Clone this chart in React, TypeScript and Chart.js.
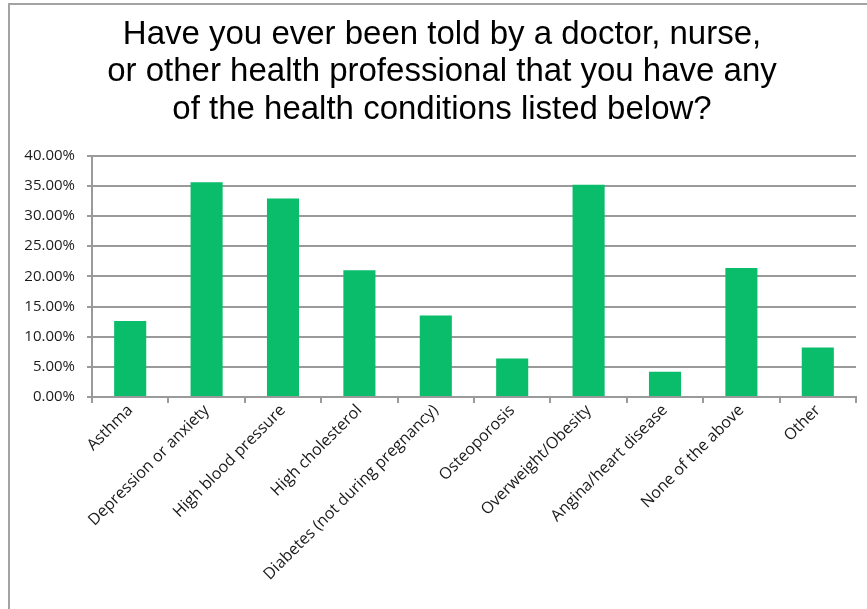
import React, { useEffect, useRef } from "react";
import { Chart, registerables } from "chart.js";

Chart.register(...registerables);

const titleLines = [
  "Have you ever been told by a doctor, nurse,",
  "or other health professional that you have any",
  "of the health conditions listed below?",
];

const categories = [
  "Asthma",
  "Depression or anxiety",
  "High blood pressure",
  "High cholesterol",
  "Diabetes (not during pregnancy)",
  "Osteoporosis",
  "Overweight/Obesity",
  "Angina/heart disease",
  "None of the above",
  "Other",
];

const percentages = [12.6, 35.6, 32.9, 21.0, 13.5, 6.4, 35.2, 4.2, 21.4, 8.2];

const yTickValues = [0, 5, 10, 15, 20, 25, 30, 35, 40];

const titleShift = {
  id: "titleShift",
  afterLayout(chart: any) {
    if (chart.titleBlock) {
      chart.titleBlock.left = 18;
    }
  },
};

export default function App() {
  const canvasRef = useRef<HTMLCanvasElement | null>(null);

  useEffect(() => {
    const canvas = canvasRef.current;
    if (!canvas) return;
    const chart = new Chart(canvas, {
      type: "bar",
      data: {
        labels: categories,
        datasets: [
          {
            data: percentages,
            backgroundColor: "#0abd6a",
            borderWidth: 0,
            barPercentage: 0.42,
            categoryPercentage: 1,
          },
        ],
      },
      options: {
        animation: false,
        responsive: false,
        maintainAspectRatio: false,
        layout: { padding: { left: 0, right: 20, top: 0, bottom: 8 } },
        plugins: {
          legend: { display: false },
          tooltip: { enabled: false },
          title: {
            display: true,
            text: titleLines,
            color: "#000000",
            font: { family: "'Liberation Sans', Arial, sans-serif", size: 33, weight: "normal", lineHeight: 1.139 },
            padding: { top: 11, bottom: 27 },
          },
        },
        scales: {
          x: {
            grid: {
              offset: true,
              drawOnChartArea: false,
              drawTicks: true,
              tickLength: 6,
              color: "#9a9a9a",
              lineWidth: 2,
            },
            border: { display: true, color: "#9a9a9a", width: 2 },
            ticks: {
              maxRotation: 45,
              minRotation: 45,
              autoSkip: false,
              padding: -2,
              color: "#1a1a1a",
              font: { family: "'Open Sans', sans-serif", size: 16 },
            },
            afterFit: (scale: any) => {
              scale.height = 200;
            },
          },
          y: {
            min: 0,
            max: 40,
            afterBuildTicks: (scale: any) => {
              scale.ticks = yTickValues.map((v) => ({ value: v }));
            },
            grid: {
              drawTicks: true,
              tickLength: 5,
              color: "#9a9a9a",
              lineWidth: 2,
            },
            border: { display: true, color: "#9a9a9a", width: 2 },
            ticks: {
              padding: 12,
              color: "#1a1a1a",
              font: { family: "'Open Sans', sans-serif", size: 15 },
              callback: (v: any) => Number(v).toFixed(2) + "%",
            },
            afterFit: (scale: any) => {
              scale.width = 82;
            },
          },
        },
      },
      plugins: [titleShift],
    });
    return () => chart.destroy();
  }, []);

  return (
    <div
      style={{
        position: "fixed",
        left: 8,
        top: 3,
        width: 857,
        height: 604,
        borderTop: "2px solid #a3a3a3",
        borderLeft: "2px solid #a3a3a3",
        overflow: "hidden",
        background: "#ffffff",
      }}
    >
      <canvas ref={canvasRef} width={866} height={600} style={{ display: "block", width: 866, height: 600 }} />
    </div>
  );
}
